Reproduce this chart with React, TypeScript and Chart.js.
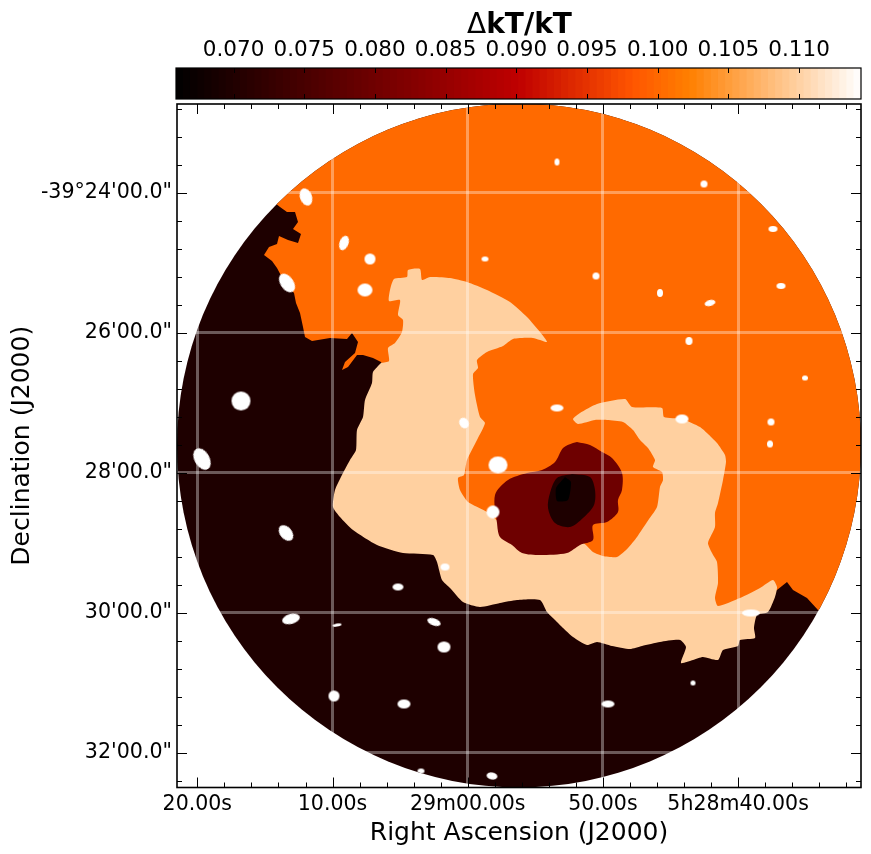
import React, { useEffect, useRef } from "react";
import { Chart, registerables } from "chart.js";

Chart.register(...registerables);

// Map geometry in image pixels (column, row) of the temperature map.
const imageWidth = 684;
const imageHeight = 683.5;
const diskCentre = [342, 341.5];
const diskRadius = 342;

const raTickValues = [20.3, 155.5, 290.7, 425.9, 561.1];
const raTickLabels = ["20.00s", "10.00s", "29m00.00s", "50.00s", "5h28m40.00s"];
const raMinorValues = [47.3, 74.4, 101.4, 128.5, 182.5, 209.6, 236.6, 263.6, 317.8, 344.8, 371.8, 398.9, 453, 480, 507, 534, 588.1, 615.2, 642.2, 669.3];
const decTickValues = [88.5, 228.5, 368.5, 508.5, 648.5];
const decTickLabels = ["-39°24'00.0\"", "26'00.0\"", "28'00.0\"", "30'00.0\"", "32'00.0\""];
const decMinorValues = [4.5, 32.5, 60.5, 116.5, 144.5, 172.5, 200.5, 256.5, 284.5, 312.5, 340.5, 396.5, 424.5, 452.5, 480.5, 536.5, 564.5, 592.5, 620.5, 676.5];

const cbarTicks = [0.07, 0.075, 0.08, 0.085, 0.09, 0.095, 0.1, 0.105, 0.11];
const cbarMin = 0.06593;
const cbarMax = 0.11438;
const cbarLevels = 96;

const colLow = "#1e0000";
const colOrange = "#ff6a00";
const colPeach = "#ffd0a0";
const colMaroon = "#6e0000";
const colCore = "#000000";

const lowRegion = [-10, -10, 694, -10, 694, 694, -10, 694];

const orangeRegion = [
  98, 99, 103, 103, 110, 108, 118, 108, 121, 118, 116, 125, 124, 130, 121, 139, 111, 136, 102, 132, 100, 140, 92, 143,
  87, 151, 95, 157, 100, 164, 108, 179, 117, 189, 119, 199, 123, 209, 126, 223, 128, 233, 135, 237, 153, 234, 170, 235,
  175, 229, 181, 238, 178, 249, 168, 258, 165, 266, 171, 263, 180, 251, 186, 251, 196, 254, 204, 258, 323, 486, 523, 516,
  583, 496, 600, 486, 610, 478, 616, 486, 630, 494, 641, 506, 723, 536, 723, -54, 73, -54,
];

const peachRegion = [
  204, 259, 212, 257, 211, 244, 218, 239, 225, 228, 226, 216, 221, 211, 223, 196, 212, 197, 213, 186, 217, 175, 230, 173,
  231, 166, 243, 165, 245, 176, 253, 173, 273, 174, 290, 178, 310, 186, 333, 198, 350, 213, 363, 228, 370, 238,
  356, 234, 336, 235, 326, 242, 310, 248, 300, 256, 301, 264, 296, 270, 298, 291, 303, 313, 308, 319, 300, 336, 290, 356,
  287, 371, 281, 374, 283, 386, 291, 398, 310, 408, 333, 426, 406, 439, 416, 448, 426, 452, 440, 453, 451, 444, 460, 433,
  470, 418, 480, 403, 483, 383, 486, 376, 485, 368, 476, 363, 478, 356, 471, 344, 463, 336, 456, 326, 446, 318, 430, 316,
  418, 316, 401, 320, 396, 315, 403, 309, 420, 300, 448, 295, 455, 303, 485, 304, 487, 313, 505, 315, 523, 323, 530, 329,
  540, 339, 548, 351, 549, 358, 546, 376, 541, 399, 538, 409, 538, 423, 531, 439, 535, 449, 540, 458, 541, 479, 538, 494,
  541, 502, 563, 494, 583, 484, 596, 476, 600, 483, 598, 493, 591, 508, 580, 511, 577, 524, 578, 534, 563, 536, 561, 542,
  546, 546, 541, 556, 526, 553, 516, 556, 504, 559, 509, 543, 503, 536, 483, 538, 465, 542, 453, 545, 435, 542, 420, 538,
  410, 541, 396, 533, 386, 524, 378, 516, 370, 508, 363, 496, 340, 496, 323, 499, 303, 503, 286, 498, 273, 484, 265, 476,
  260, 458, 256, 451, 226, 449, 200, 441, 176, 426, 163, 413, 156, 403, 158, 386, 166, 369, 173, 356, 179, 346, 180, 326,
  186, 313, 188, 296, 195, 279, 196, 268,
];

const maroonRegion = [
  400, 338, 413, 341, 425, 348, 435, 354, 445, 369, 445, 386, 441, 396, 441, 408, 430, 418, 416, 421, 416, 436, 403, 441,
  390, 449, 363, 451, 345, 449, 335, 441, 323, 433, 320, 419, 318, 391, 331, 376, 350, 369, 365, 366, 378, 358, 386, 344, 396, 339,
];

const innerRegion = [395, 370, 413, 373, 418, 386, 417, 401, 406, 414, 393, 423, 378, 419, 371, 404, 373, 389, 380, 374];

const coreRegion = [388, 373, 394, 378, 391, 396, 380, 397, 379, 384];

// Excised point sources: column, row, semi-axis x, semi-axis y, tilt in degrees.
const sourceX = [380, 129, 527, 596, 167, 193, 308, 419, 110, 188, 483, 533, 604, 512, 628, 64, 380, 287, 594, 593, 25, 321, 316, 109, 268, 221, 114, 160, 257, 267, 574, 157, 227, 431, 516, 315, 244, 505];
const sourceY = [58, 93, 80, 125, 139, 155, 155, 172, 179, 186, 189, 199, 182, 237, 274, 297, 304, 319, 318, 340, 355, 361, 408, 429, 463, 483, 515, 521, 518, 543, 509, 592, 600, 600, 579, 672, 667, 315];
const sourceA = [2.5, 6, 3.5, 4.5, 4.5, 5.5, 3.5, 3.5, 6.5, 7.5, 3, 5.5, 4.5, 3.5, 3, 9.5, 6.5, 4.5, 3.5, 3, 7.5, 9.5, 6.5, 6, 4.5, 5.5, 9, 4.5, 7, 6.5, 9, 5.5, 6.5, 6.5, 2.5, 5.5, 3.5, 6.5];
const sourceB = [3.5, 9, 3.5, 3, 7.5, 5.5, 2.5, 3.5, 10.5, 6.5, 4, 3, 3, 4, 2.5, 9.5, 3.5, 5.5, 3.5, 3.5, 11.5, 8.5, 6.5, 9, 3.5, 3.5, 5, 1.5, 3.5, 5.5, 3.5, 5.5, 4.5, 3.5, 2.5, 3.5, 2.5, 4.5];
const sourceTilt = [0, -20, 0, 0, 20, 0, 0, 0, -35, 0, 0, -15, 0, 0, 0, 0, 0, -30, 0, 0, -30, 0, 0, -40, 0, 0, -15, -10, 20, 0, 0, 0, 0, 0, 0, 10, 0, 0];

const FONT = "'DejaVu Sans'";

function polygon(flat: number[], color: string, order: number, tension = 0) {
  const data: { x: number; y: number }[] = [];
  for (let i = 0; i < flat.length; i += 2) data.push({ x: flat[i], y: flat[i + 1] });
  data.push({ x: flat[0], y: flat[1] });
  return {
    type: "scatter",
    data,
    order,
    showLine: true,
    fill: "shape",
    backgroundColor: color,
    borderColor: color,
    borderWidth: 0,
    pointRadius: 0,
    tension,
  };
}

function ellipseSprite(a: number, b: number) {
  const c = document.createElement("canvas");
  c.width = Math.ceil(a * 2) + 2;
  c.height = Math.ceil(b * 2) + 2;
  const g = c.getContext("2d")!;
  g.fillStyle = "#ffffff";
  g.beginPath();
  g.ellipse(c.width / 2, c.height / 2, a, b, 0, 0, Math.PI * 2);
  g.fill();
  return c;
}

function heat(t: number) {
  const r = Math.min(1, 1.5 * t);
  const g = Math.max(0, 2 * t - 1);
  const b = Math.max(0, 4 * t - 3);
  return `rgb(${Math.round(r * 255)},${Math.round(g * 255)},${Math.round(b * 255)})`;
}

const diskClip = {
  id: "diskClip",
  beforeDatasetsDraw(chart: any) {
    const { x, y } = chart.scales;
    const ctx = chart.ctx;
    const cx = x.getPixelForValue(diskCentre[0]);
    const cy = y.getPixelForValue(diskCentre[1]);
    const r = Math.abs(x.getPixelForValue(diskCentre[0] + diskRadius) - cx);
    ctx.save();
    ctx.beginPath();
    ctx.arc(cx, cy, r, 0, Math.PI * 2);
    ctx.clip();
  },
  afterDatasetsDraw(chart: any) {
    chart.ctx.restore();
  },
};

const frameTicks = {
  id: "frameTicks",
  afterDraw(chart: any) {
    const { ctx, chartArea: a, scales } = chart;
    ctx.save();
    ctx.strokeStyle = "#000";
    ctx.lineWidth = 1;
    const vt = (px: number, len: number) => {
      const p = Math.round(px) + 0.5;
      ctx.beginPath();
      ctx.moveTo(p, a.top);
      ctx.lineTo(p, a.top + len);
      ctx.moveTo(p, a.bottom);
      ctx.lineTo(p, a.bottom - len);
      ctx.stroke();
    };
    const ht = (py: number, len: number) => {
      const p = Math.round(py) + 0.5;
      ctx.beginPath();
      ctx.moveTo(a.left, p);
      ctx.lineTo(a.left + len, p);
      ctx.moveTo(a.right, p);
      ctx.lineTo(a.right - len, p);
      ctx.stroke();
    };
    raTickValues.forEach((v) => vt(scales.x.getPixelForValue(v), 10));
    raMinorValues.forEach((v) => vt(scales.x.getPixelForValue(v), 5));
    decTickValues.forEach((v) => ht(scales.y.getPixelForValue(v), 10));
    decMinorValues.forEach((v) => ht(scales.y.getPixelForValue(v), 5));
    ctx.lineWidth = 1.6;
    ctx.strokeRect(a.left, a.top, a.right - a.left, a.bottom - a.top);
    ctx.restore();
  },
};

const cbarDecor = {
  id: "cbarDecor",
  afterDraw(chart: any) {
    const { ctx, chartArea: a, scales } = chart;
    ctx.save();
    ctx.strokeStyle = "#000";
    ctx.lineWidth = 1;
    cbarTicks.forEach((v) => {
      const p = Math.round(scales.x.getPixelForValue(v)) + 0.5;
      ctx.beginPath();
      ctx.moveTo(p, a.top);
      ctx.lineTo(p, a.top + 5);
      ctx.moveTo(p, a.bottom);
      ctx.lineTo(p, a.bottom - 5);
      ctx.stroke();
    });
    ctx.lineWidth = 1.2;
    ctx.strokeRect(a.left, a.top, a.right - a.left, a.bottom - a.top);
    ctx.fillStyle = "#000";
    ctx.textBaseline = "alphabetic";
    ctx.textAlign = "left";
    const reg = `28px ${FONT}`;
    const bold = `bold 28px ${FONT}`;
    ctx.font = reg;
    const w1 = ctx.measureText("Δ").width;
    ctx.font = bold;
    const w2 = ctx.measureText("kT/kT").width;
    const start = 519.5 - (w1 + w2) / 2;
    ctx.font = reg;
    ctx.fillText("Δ", start, 33);
    ctx.font = bold;
    ctx.fillText("kT/kT", start + w1, 33);
    ctx.restore();
  },
};

export default function App() {
  const mapRef = useRef<HTMLCanvasElement>(null);
  const barRef = useRef<HTMLCanvasElement>(null);

  useEffect(() => {
    const sources = {
      type: "scatter",
      data: sourceX.map((x, i) => ({ x, y: sourceY[i] })),
      order: 0,
      showLine: false,
      pointStyle: sourceX.map((_, i) => ellipseSprite(sourceA[i], sourceB[i])),
      pointRotation: sourceTilt,
      pointRadius: 5,
      borderWidth: 0,
    };

    const map = new Chart(mapRef.current!, {
      type: "scatter",
      data: {
        datasets: [
          polygon(lowRegion, colLow, 6),
          polygon(orangeRegion, colOrange, 5),
          polygon(peachRegion, colPeach, 4, 0.2),
          polygon(maroonRegion, colMaroon, 3, 0.3),
          polygon(innerRegion, colLow, 2, 0.3),
          polygon(coreRegion, colCore, 1, 0.2),
          sources,
        ] as any,
      },
      options: {
        responsive: false,
        animation: false,
        events: [],
        layout: { padding: { left: 0, right: 10, top: 104, bottom: 0 } },
        plugins: { legend: { display: false }, tooltip: { enabled: false } },
        scales: {
          x: {
            type: "linear",
            min: 0,
            max: imageWidth,
            afterBuildTicks: (s: any) => {
              s.ticks = raTickValues.map((value) => ({ value }));
            },
            afterFit: (s: any) => {
              s.height = 66.5;
            },
            ticks: {
              callback: (_v: any, i: number) => raTickLabels[i],
              autoSkip: false,
              maxRotation: 0,
              minRotation: 0,
              padding: 5,
              color: "#000",
              font: { family: FONT, size: 20.5 },
            },
            grid: { color: "rgba(255,255,255,0.35)", lineWidth: 3, drawTicks: false, z: 1 },
            border: { display: false },
            title: {
              display: true,
              text: "Right Ascension (J2000)",
              color: "#000",
              font: { family: FONT, size: 25 },
              padding: { top: 0, bottom: 6 },
            },
          },
          y: {
            type: "linear",
            reverse: true,
            min: 0,
            max: imageHeight,
            afterBuildTicks: (s: any) => {
              s.ticks = decTickValues.map((value) => ({ value }));
            },
            afterFit: (s: any) => {
              s.width = 177;
            },
            ticks: {
              callback: (_v: any, i: number) => decTickLabels[i],
              autoSkip: false,
              padding: 5,
              color: "#000",
              font: { family: FONT, size: 20.6 },
            },
            grid: { color: "rgba(255,255,255,0.35)", lineWidth: 3, drawTicks: false, z: 1 },
            border: { display: false },
            title: {
              display: true,
              text: "Declination (J2000)",
              color: "#000",
              font: { family: FONT, size: 25 },
              padding: { top: 7.4, bottom: 7.4 },
            },
          },
        },
      } as any,
      plugins: [diskClip, frameTicks],
    } as any);

    const span = (cbarMax - cbarMin) / cbarLevels;
    const levels = Array.from({ length: cbarLevels }, (_, i) => ({
      data: [[cbarMin + i * span, cbarMin + (i + 1) * span + span * 0.1]],
      backgroundColor: heat((i + 0.5) / cbarLevels),
      borderWidth: 0,
      order: cbarLevels - i,
      grouped: false,
      barPercentage: 1,
      categoryPercentage: 1,
    }));

    const bar = new Chart(barRef.current!, {
      type: "bar",
      data: { labels: ["ΔkT/kT"], datasets: levels as any },
      options: {
        indexAxis: "y",
        responsive: false,
        animation: false,
        events: [],
        layout: { padding: { left: 176, right: 10, top: 36, bottom: 3 } },
        plugins: { legend: { display: false }, tooltip: { enabled: false } },
        scales: {
          x: {
            type: "linear",
            position: "top",
            min: cbarMin,
            max: cbarMax,
            afterBuildTicks: (s: any) => {
              s.ticks = cbarTicks.map((value) => ({ value }));
            },
            afterFit: (s: any) => {
              s.height = 32;
            },
            ticks: {
              callback: (v: any) => Number(v).toFixed(3),
              autoSkip: false,
              maxRotation: 0,
              minRotation: 0,
              padding: 5,
              color: "#000",
              font: { family: FONT, size: 21.5 },
            },
            grid: { display: false, drawTicks: false },
            border: { display: false },
          },
          y: { type: "category", display: false },
        },
      } as any,
      plugins: [cbarDecor],
    } as any);

    return () => {
      map.destroy();
      bar.destroy();
    };
  }, []);

  return (
    <div style={{ position: "absolute", left: 0, top: 0, width: 871, height: 854, background: "#fff" }}>
      <canvas ref={mapRef} width={871} height={854} style={{ position: "absolute", left: 0, top: 0, display: "block" }} />
      <canvas ref={barRef} width={871} height={102} style={{ position: "absolute", left: 0, top: 0, display: "block" }} />
    </div>
  );
}
